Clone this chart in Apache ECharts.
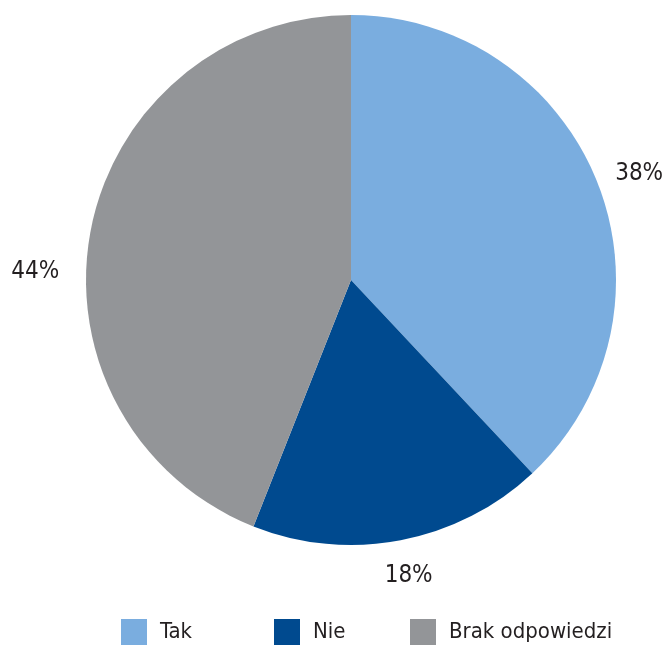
<!DOCTYPE html>
<html>
<head>
<meta charset="utf-8">
<script src="https://cdn.jsdelivr.net/npm/echarts@6/dist/echarts.min.js"></script>
<style>
  html, body { margin: 0; padding: 0; background: #ffffff; }
  #chart { width: 663px; height: 646px; }
</style>
</head>
<body>
<div id="chart"></div>
<script>
// Survey answers and their shares (percent)
const categories = ['Tak', 'Nie', 'Brak odpowiedzi'];
const shares = [38, 18, 44];
const colors = ['#7aaddf', '#004a8f', '#939598'];

const FONT = '"DejaVu Sans Condensed", "Liberation Sans Narrow", sans-serif';
const TEXT = '#231f20';

// small nudges for the outside value labels
const labelNudges = [[-12, 3], [-22, 4], [0, 47]];

const chart = echarts.init(document.getElementById('chart'), null, { renderer: 'canvas' });

// one legend block per answer so each entry can sit at its own spot
const legendLefts = [121, 274, 410];
const legends = categories.map((name, i) => ({
  data: [name],
  left: legendLefts[i],
  top: 619,
  padding: 0,
  orient: 'horizontal',
  itemWidth: 26,
  itemHeight: 26,
  itemGap: 0,
  icon: 'rect',
  selectedMode: false,
  textStyle: { fontFamily: FONT, fontSize: 22, color: TEXT, padding: [0, 0, 0, 8] }
}));

chart.setOption({
  animation: false,
  color: colors,
  legend: legends,
  series: [{
    type: 'pie',
    center: [351, 280],
    radius: [0, 265],
    startAngle: 90,
    clockwise: true,
    avoidLabelOverlap: false,
    data: categories.map((name, i) => ({ name, value: shares[i] })),
    itemStyle: { borderWidth: 0 },
    label: {
      show: true,
      position: 'outside',
      formatter: p => p.value + '%',
      fontFamily: FONT,
      fontSize: 24,
      color: TEXT,
      distanceToLabelLine: 0
    },
    labelLine: { show: false, length: 32, length2: 0 },
    labelLayout: p => ({ dx: labelNudges[p.dataIndex][0], dy: labelNudges[p.dataIndex][1] }),
    emphasis: { disabled: true }
  }]
});
</script>
</body>
</html>
